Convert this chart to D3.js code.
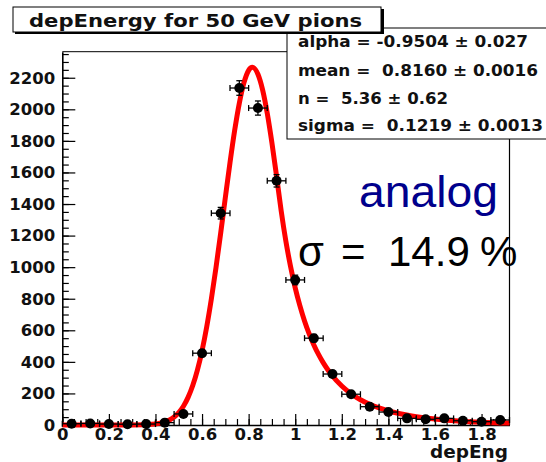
<!DOCTYPE html>
<html><head><meta charset="utf-8">
<script src="https://cdn.jsdelivr.net/npm/d3@7/dist/d3.min.js"></script>
<style>body{margin:0;background:#fff}svg{display:block}text{white-space:pre}</style>
</head><body>
<svg id="c" width="546" height="462"></svg>
<script>
// Histogram bins (centres) and counts
const binCenters = [0.04,0.12,0.20,0.28,0.36,0.44,0.52,0.60,0.68,0.76,0.84,0.92,1.00,1.08,1.16,1.24,1.32,1.40,1.48,1.56,1.64,1.72,1.80,1.88];
const binCounts  = [8,10,6,5,6,15,70,455,1342,2135,2008,1547,919,550,323,195,116,82,42,36,42,27,21,32];
const binHalfWidth = 0.04;
// Fit curve
const curveX = [0,0.10,0.20,0.30,0.40,0.42,0.44,0.46,0.48,0.50,0.52,0.54,0.56,0.58,0.60,0.62,0.64,0.66,0.68,0.70,0.72,0.74,0.76,0.78,0.80,0.816,0.84,0.86,0.88,0.90,0.92,0.94,0.96,0.98,1.00,1.02,1.04,1.06,1.08,1.10,1.12,1.14,1.16,1.20,1.24,1.28,1.32,1.36,1.40,1.45,1.50,1.60,1.70,1.80,1.92];
const curveY = [0,0,0,0.3,7,12,20,32,51,79,119,175,250,348,471,622,799,999,1216,1441,1662,1866,2039,2169,2247,2266,2222,2123,1974,1787,1575,1354,1163,1004,869,756,659,577,507,447,395,350,310,247,198,160,131,108,89,71,57,38,26,18,12];
const xTickLabels = ["0","0.2","0.4","0.6","0.8","1","1.2","1.4","1.6","1.8"];
const yTickLabels = ["0","200","400","600","800","1000","1200","1400","1600","1800","2000","2200"];
const statLines = ["alpha = -0.9504 \u00b1 0.027","mean =  0.8160 \u00b1 0.0016","n =  5.36 \u00b1 0.62","sigma =  0.1219 \u00b1 0.0013"];
const title = "depEnergy for 50 GeV pions";
const sigmaParts = ["\u03c3","=","14.9","%"];

const svg = d3.select("#c");
const L=62.3, R=509.5, T=51.7, B=425;
const x = d3.scaleLinear().domain([0,1.92]).range([L,R]);
const y = d3.scaleLinear().domain([0,2365]).range([B,T]);
const bold = "DejaVu Sans, sans-serif";

// frame
svg.append("line").attr("x1",L).attr("x2",R).attr("y1",T).attr("y2",T).attr("stroke","#000").attr("stroke-width",1);
svg.append("line").attr("x1",R).attr("x2",R).attr("y1",T).attr("y2",B).attr("stroke","#000").attr("stroke-width",1.2);

// minor ticks
const yMinor = d3.range(0,2366,50);
svg.append("g").attr("transform",`translate(${L},0)`)
  .call(d3.axisLeft(y).tickValues(yMinor).tickSize(-6.5).tickFormat(""))
  .call(g=>g.select(".domain").remove());
const xMinor = d3.range(0,39).map(i=>i*0.05);
svg.append("g").attr("transform",`translate(0,${B})`)
  .call(d3.axisBottom(x).tickValues(xMinor).tickSize(-6).tickFormat(""))
  .call(g=>g.select(".domain").remove());

// major axes
const yAx = svg.append("g").attr("transform",`translate(${L},0)`)
  .call(d3.axisLeft(y).tickValues(yTickLabels.map(Number)).tickSize(-13).tickSizeOuter(0).tickPadding(7).tickFormat((d,i)=>yTickLabels[i]));
const xAx = svg.append("g").attr("transform",`translate(0,${B})`)
  .call(d3.axisBottom(x).tickValues(xTickLabels.map(Number)).tickSize(-11).tickSizeOuter(0).tickPadding(3).tickFormat((d,i)=>xTickLabels[i]));
[yAx,xAx].forEach(g=>{
  g.selectAll("text").attr("font-family",bold).attr("font-weight","bold").attr("font-size",16.5).attr("fill","#111");
  g.select(".domain").attr("stroke","#000").attr("stroke-width",1.6);
});
svg.selectAll("g.tick line").attr("stroke","#000").attr("stroke-width",1.2);

// fit curve
const line = d3.line().x((d,i)=>x(curveX[i])).y(d=>y(d)).curve(d3.curveMonotoneX);
svg.append("path").datum(curveY).attr("d",line).attr("fill","none").attr("stroke","#ff0000").attr("stroke-width",5).attr("stroke-linejoin","round");

// data points
const pts = svg.append("g");
binCenters.forEach((c,i)=>{
  const n = binCounts[i], e = Math.sqrt(n);
  const cx = x(c), cy = y(n);
  const x0 = x(c-binHalfWidth), x1 = x(c+binHalfWidth);
  const g = pts.append("g").attr("stroke","#000").attr("stroke-width",1.3);
  g.append("line").attr("x1",x0).attr("x2",x1).attr("y1",cy).attr("y2",cy);
  g.append("line").attr("x1",x0).attr("x2",x0).attr("y1",cy-3).attr("y2",cy+3);
  g.append("line").attr("x1",x1).attr("x2",x1).attr("y1",cy-3).attr("y2",cy+3);
  const ya = y(Math.max(n-e,0)), yb = y(n+e);
  g.append("line").attr("x1",cx).attr("x2",cx).attr("y1",ya).attr("y2",yb);
  g.append("line").attr("x1",cx-3).attr("x2",cx+3).attr("y1",yb).attr("y2",yb);
  g.append("line").attr("x1",cx-3).attr("x2",cx+3).attr("y1",ya).attr("y2",ya);
  pts.append("circle").attr("cx",cx).attr("cy",cy).attr("r",5).attr("fill","#000");
});

// axis title
svg.append("text").attr("x",508).attr("y",458).attr("text-anchor","end")
  .attr("font-family",bold).attr("font-weight","bold").attr("font-size",17).attr("fill","#111")
  .attr("textLength",78).attr("lengthAdjust","spacingAndGlyphs").text("depEng");

// stats box
svg.append("rect").attr("x",287).attr("y",28).attr("width",300).attr("height",111).attr("fill","#fff").attr("stroke","#000").attr("stroke-width",1);
const statBase = [47,75.5,103.5,131];
const statLen = [230,240,150,245];
statLines.forEach((s,i)=>{
  svg.append("text").attr("x",298).attr("y",statBase[i]).attr("font-family",bold).attr("font-weight","bold")
    .attr("font-size",16).attr("fill","#111").attr("textLength",statLen[i]).attr("lengthAdjust","spacingAndGlyphs").text(s);
});

// title box
svg.append("rect").attr("x",15).attr("y",9).attr("width",369).attr("height",25).attr("fill","#000");
svg.append("rect").attr("x",13).attr("y",7).attr("width",368).attr("height",25).attr("fill","#fff").attr("stroke","#000").attr("stroke-width",1);
svg.append("text").attr("x",29).attr("y",27).attr("font-family",bold).attr("font-weight","bold")
  .attr("font-size",17).attr("fill","#111").attr("textLength",333).attr("lengthAdjust","spacingAndGlyphs").text(title);

// annotations
svg.append("text").attr("x",359).attr("y",207).attr("font-family","Liberation Sans, Arial, sans-serif")
  .attr("font-size",45).attr("fill","#00008c").attr("textLength",139).attr("lengthAdjust","spacingAndGlyphs").text("analog");
const sigX = [298,341,388,480];
sigmaParts.forEach((s,i)=>{
  svg.append("text").attr("x",sigX[i]).attr("y",266).attr("font-family","Liberation Sans, Arial, sans-serif")
    .attr("font-size",42).attr("fill","#000").text(s);
});
</script>
</body></html>
